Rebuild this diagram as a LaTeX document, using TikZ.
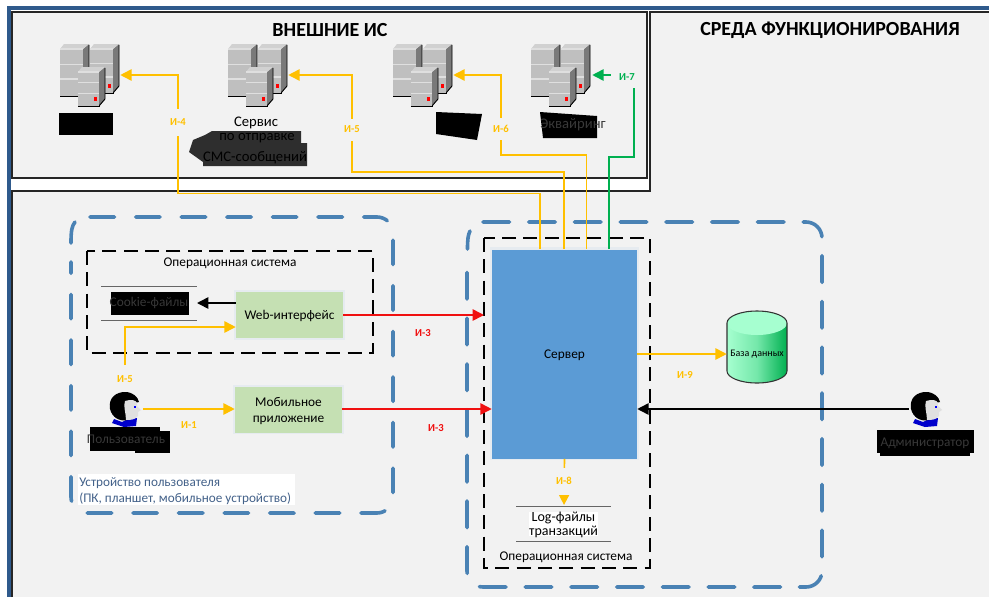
\documentclass[tikz,border=0pt]{standalone}
\usepackage{fontspec}
\setmainfont{Carlito}
\usetikzlibrary{arrows.meta,calc}
\definecolor{panel}{HTML}{F2F2F2}
\definecolor{edgeblue}{HTML}{2F5A8C}
\definecolor{dashblue}{HTML}{4A82B4}
\definecolor{orangeline}{HTML}{FFC000}
\definecolor{greenline}{HTML}{00B050}
\definecolor{redline}{HTML}{F01010}
\definecolor{srvblue}{HTML}{5B9BD5}
\definecolor{boxgreen}{HTML}{C5E0B3}
\definecolor{dbtop}{HTML}{A6FFD0}
\definecolor{captionblue}{HTML}{44628A}
\definecolor{glow}{HTML}{E6EBF0}
\newcommand{\srvunit}[4]{% left, top, front width, height
  \fill[black] (#1,#2+#4-3) rectangle (#1+#3+1,#2+#4);
  \fill[gray!95!black] (#1+#3,#2+5) -- (#1+#3+6,#2) -- (#1+#3+6,#2+#4-8) -- (#1+#3,#2+#4-1) -- cycle;
  \draw[black,line width=.7pt] (#1+#3+6,#2+1) -- (#1+#3+6,#2+#4-8) -- (#1+#3,#2+#4-1);
  \fill[black!25] (#1,#2+#4-1) rectangle (#1+#3,#2+4);
  \fill[black!18] (#1,#2+5) -- (#1+4,#2) -- (#1+#3+6,#2) -- (#1+#3,#2+5) -- cycle;
  \draw[white!75!gray,line width=.8pt] (#1,#2+5) -- (#1+#3,#2+5);
  \draw[white!75!gray,line width=.8pt] (#1,#2+.39*#4) -- (#1+#3,#2+.39*#4);
  \draw[white!75!gray,line width=.8pt] (#1,#2+.66*#4) -- (#1+#3,#2+.66*#4);
  \fill[red] (#1+#3-5,#2+#4-10) rectangle (#1+#3-2,#2+#4-6);
}
\tikzset{
  x=0.75pt,y=-0.75pt,
  srvicon/.pic={
    \srvunit{0}{0}{23}{53}
    \srvunit{30}{0}{23}{50}
    \srvunit{18}{23}{21}{40}
  },
  personicon/.pic={
    \fill[blue!80!black] (-11,10) -- (-3,13) -- (3,10) -- (12,9) -- (11,17) -- (-1,18) -- (-13,14) -- cycle;
    \fill[black] (-15,0) .. controls (-17,-12) and (-8,-17) .. (0,-17) .. controls (8,-17) and (13,-12) .. (14,-7) -- (0,-4) -- (3,11) .. controls (-6,13) and (-13,8) .. (-15,0) -- cycle;
    \fill[black!12] (0,-8) .. controls (6,-10) and (11,-9) .. (12,-6) -- (12,-3) -- (16,1) -- (13,3) -- (13,7) .. controls (10,11) and (5,11) .. (1,11) .. controls (1,4) and (-2,-3) .. (0,-8) -- cycle;
    \fill[blue] (9,-3) rectangle (11,-1);
  },
  frameline/.style={draw=black!85,line width=.8pt},
  bluedash/.style={draw=dashblue,line width=2.7pt,line cap=round,dash pattern=on 18.4pt off 15.8pt,rounded corners=12pt},
  blackdash/.style={draw=black,line width=1.1pt,dash pattern=on 10.5pt off 5.5pt},
  flow/.style={line width=1.2pt,-{Triangle[length=8.5pt,width=8.5pt]}},
  orflow/.style={flow,draw=orangeline,color=orangeline},
  grflow/.style={flow,draw=greenline,color=greenline},
  rdflow/.style={flow,draw=redline,color=redline},
  bkflow/.style={flow,draw=black,color=black},
  slot/.style={inner sep=0pt,minimum width=60*0.75pt,minimum height=10pt},
  person/.style={inner sep=0pt,minimum width=36*0.75pt,minimum height=24pt},
  greenbox/.style={fill=boxgreen,inner sep=0pt,minimum width=107*0.75pt,minimum height=46*0.75pt,align=center,text depth=0pt,font=\fontsize{10}{12}\selectfont},
  flowlabel/.style={fill=panel,inner sep=1pt,font=\fontsize{8}{9}\selectfont\bfseries},
  plain/.style={inner sep=0pt,align=center,font=\fontsize{10}{13}\selectfont},
  bigplain/.style={plain,font=\fontsize{11}{13}\selectfont},
  heading/.style={inner sep=0pt,font=\fontsize{15}{18}\selectfont\bfseries},
  inktext/.style={plain,text=black!78},
}
\begin{document}
\begin{tikzpicture}
\useasboundingbox (0,0) rectangle (989,597);
\fill[white] (0,0) rectangle (989,597);
% panels
\fill[panel] (12,12) rectangle (989,597);
\fill[white] (12,179) rectangle (647,190);
\fill[white] (647,12) rectangle (650,190);
\fill[edgeblue] (7,6) rectangle (989,10);
\fill[edgeblue] (7,6) rectangle (11,597);
\draw[frameline] (12,12) rectangle (647,178);
\draw[frameline] (12,597) -- (12,191) -- (650,191) -- (650,12) -- (989,12);
\node[heading] (hext) at (330,30) {ВНЕШНИЕ ИС};
\node[heading] (henv) at (830,30) {СРЕДА ФУНКЦИОНИРОВАНИЯ};
% containers
\draw[bluedash] (90,217) -- (393,217) -- (393,513) -- (71,513) -- (71,262);
\draw[bluedash,dash pattern=on 20pt off 14.3pt] (483,222) -- (822,222) -- (822,587) -- (467,587) -- (467,262);
\draw[draw=dashblue,line width=2.7pt,line cap=round] (75,222) .. controls (72,226) and (71,230) .. (71,243);
\draw[draw=dashblue,line width=2.7pt,line cap=round] (470,231) .. controls (468,235) and (467.5,240) .. (467.5,249);
\draw[blackdash] (87,251) rectangle (373,353);
\draw[blackdash] (484,238) rectangle (650,568);
% servers
\pic at (60,44) {srvicon};
\pic at (228,44) {srvicon};
\pic at (393,44) {srvicon};
\pic at (531,44) {srvicon};
\node[slot] (s1) at (90,75) {};
\node[slot] (s2) at (258,75) {};
\node[slot] (s3) at (423,75) {};
\node[slot] (s4) at (562,75) {};
% redactions and server captions
\fill[black] (59,113) rectangle (113,135);
\fill[black!82] (212,131) -- (301,131) -- (301,143) -- (307,143) -- (307,166) -- (203,166) -- (203,162) -- (189,152) -- (193,140) -- (205,135) -- cycle;
\fill[black] (436,112) -- (482,114) -- (477,140) -- (436,134) -- cycle;
\fill[black] (540,112) -- (597,116) -- (597,138) -- (543,138) -- cycle;
\node[bigplain] (c2) at (256,123) {Сервис};
\node[bigplain] (c2b) at (257,138) {по отправке};
\node[bigplain] (c2c) at (255,158) {СМС-сообщений};
\node[inktext,font=\fontsize{11}{13}\selectfont] (c4) at (573,125) {Эквайринг};
% main nodes
\fill[glow] (490,247) rectangle (639,460);
\fill[glow] (234,290) rectangle (345,340);
\fill[glow] (233,385) rectangle (344,434);
\node[fill=srvblue,inner sep=0pt,minimum width=145*0.75pt,minimum height=209*0.75pt,text depth=0pt,font=\fontsize{10}{13}\selectfont] (srv) at (564.5,354) {Сервер};
\node[greenbox] (web) at (289.5,315) {Web-интерфейс};
\node[greenbox] (mob) at (288.5,410) {Мобильное\\приложение};
% cookie store
\draw[black!60,line width=.7pt] (101,286) -- (197,286);
\draw[black!60,line width=.7pt] (101,320) -- (197,320);
\fill[black] (111,292) rectangle (189,315);
\node[inktext] (cookie) at (149,303) {Cookie-файлы};
\coordinate (cookieend) at (197,303);
\node[plain] (osl) at (230,263) {Операционная система};
% log store
\draw[black!60,line width=.7pt] (516,506) -- (611,506);
\draw[black!60,line width=.7pt] (516,541) -- (611,541);
\node[plain,fill=white,text depth=0pt,font=\fontsize{10.5}{10.5}\selectfont] (log) at (563.5,524) {Log-файлы\\транзакций};
\coordinate (logtop) at (564,505);
\node[plain] (osr) at (566,557) {Операционная система};
% database
\shade[left color=dbtop,right color=greenline,middle color=dbtop!70!greenline] (727,323) -- (727,371) arc[start angle=180,end angle=0,x radius=30,y radius=12] -- (787,323) arc[start angle=0,end angle=-180,x radius=30,y radius=12] -- cycle;
\fill[dbtop] (757,323) ellipse[x radius=30,y radius=12];
\draw[black!80,line width=.8pt] (727,323) arc[start angle=180,end angle=360,x radius=30,y radius=12] -- (787,371) arc[start angle=0,end angle=180,x radius=30,y radius=12] -- cycle;
\node[inner sep=0pt,minimum width=60*0.75pt,minimum height=20pt,font=\fontsize{7.5}{9}\selectfont] (db) at (757,354) {База данных};
% persons
\pic at (125,409) {personicon};
\pic at (926,409) {personicon};
\node[person] (user) at (125,409) {};
\node[person] (admin) at (927,409) {};
\fill[black] (90,427) rectangle (160,451);
\fill[black] (135,431) rectangle (170,453);
\node[inktext] (userc) at (126,439) {Пользователь};
\fill[black] (877,430) rectangle (974,453);
\fill[black] (880,453) rectangle (970,456);
\node[inktext] (adminc) at (925,443) {Администратор};
% caption
\fill[white] (78,474) rectangle (295,505);
\node[anchor=west,inner sep=0pt,align=left,text=captionblue,text depth=0pt,font=\fontsize{9.9}{12}\selectfont] (devcap) at (79,490) {Устройство пользователя\\(ПК, планшет, мобильное устройство)};
% connector bends
\coordinate (k4) at (178,193.5);
\coordinate (k5) at (352,172);
\coordinate (k6) at (501,155);
\coordinate (k7) at (634,157);
\coordinate (u5) at (125,365);
\coordinate (u5b) at (125,327);
\coordinate (osedge) at (484,315);
% connectors
\draw[orflow] ($(srv.north)+(-24.5,0)$) |- (k4) |- (s1.east);
\draw[orflow] ($(srv.north)+(-.5,0)$) |- (k5) |- (s2.east);
\draw[orflow] ($(srv.north)+(22,0)$) |- (k6) |- (s3.east);
\draw[grflow] ($(srv.north)+(44.5,0)$) |- (k7) |- (s4.east);
\draw[bkflow] (web.west |- cookieend) -- (cookieend);
\draw[rdflow] (web.east) -- (osedge);
\draw[rdflow] (mob.east |- user.east) -- (user.east -| srv.west);
\draw[orflow] (u5) -- (u5b) -- (u5b -| web.west);
\draw[orflow] (user.east) -- (user.east -| mob.west);
\draw[orflow] (srv.south) -- (logtop);
\draw[orflow] (srv.east |- db.west) -- (db.west);
\draw[bkflow] (admin.west) -- (admin.west -| srv.east);
% flow labels
\node[flowlabel,text=orangeline,minimum height=27*0.75pt] (l4) at (178,122) {И-4};
\node[flowlabel,text=orangeline,minimum height=22*0.75pt] (l5) at (352,129.5) {И-5};
\node[flowlabel,text=orangeline,minimum height=22*0.75pt] (l6) at (501,129) {И-6};
\node[flowlabel,text=greenline,minimum width=32*0.75pt,minimum height=22*0.75pt] (l7) at (627,77) {И-7};
\node[flowlabel,text=orangeline] (l5u) at (125,379) {И-5};
\node[flowlabel,text=orangeline] (l1) at (189,425) {И-1};
\node[flowlabel,text=redline] (l3a) at (423,333) {И-3};
\node[flowlabel,text=redline] (l3b) at (436,428) {И-3};
\node[flowlabel,text=orangeline,minimum height=27*0.75pt] (l8) at (564,481) {И-8};
\node[flowlabel,text=orangeline] (l9) at (685,375) {И-9};
\end{tikzpicture}
\end{document}
